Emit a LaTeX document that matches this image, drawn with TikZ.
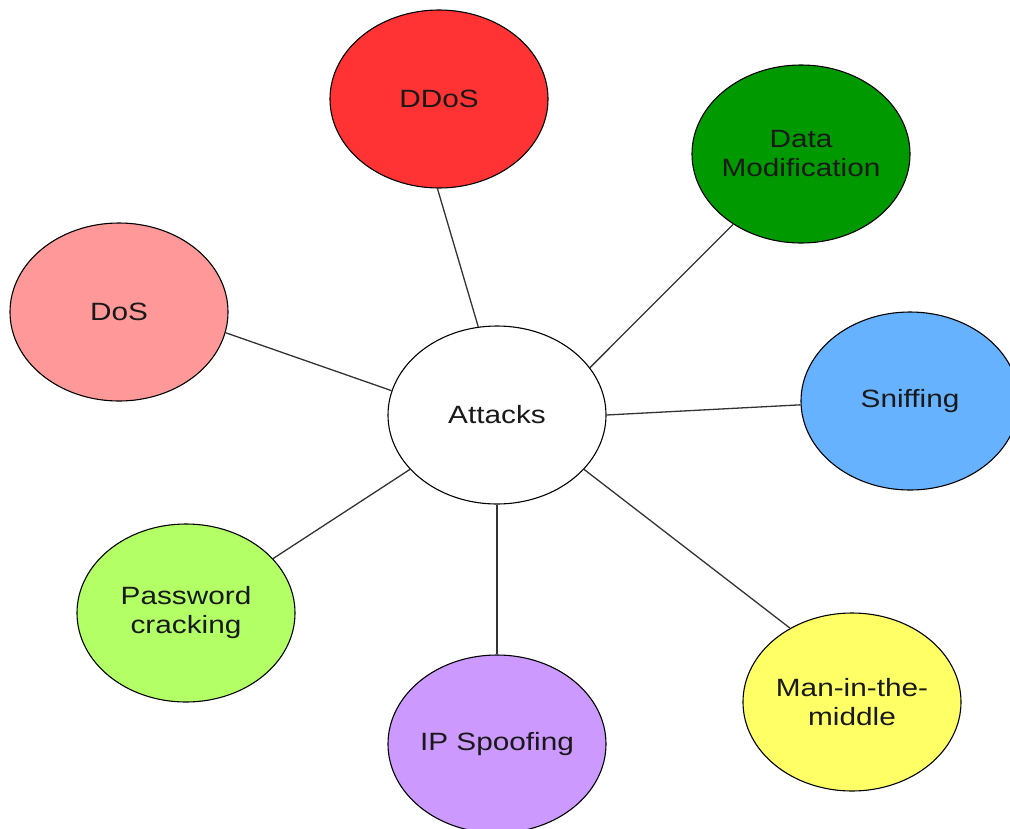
\documentclass[tikz,border=0pt]{standalone}
\usepackage{fontspec}
\setmainfont[FakeStretch=1.19]{Liberation Sans}
\usetikzlibrary{shapes.geometric}
\definecolor{ddosred}{HTML}{FF3333}
\definecolor{modgreen}{HTML}{009900}
\definecolor{dospink}{HTML}{FF9999}
\definecolor{sniffblue}{HTML}{66B2FF}
\definecolor{pwgreen}{HTML}{B2FF66}
\definecolor{spoofviolet}{HTML}{CC99FF}
\definecolor{mitmyellow}{HTML}{FFFF66}
\definecolor{edgegrey}{HTML}{333333}
\tikzset{
  bubble/.style={ellipse, draw=black, line width=1.1pt, minimum width=218pt,
    minimum height=178pt, inner xsep=-15pt, inner ysep=0pt, align=center,
    font=\fontsize{25}{29}\selectfont, text=black!90},
  spoke/.style={draw=edgegrey, line width=1.3pt}
}
\begin{document}
\begin{tikzpicture}[x=1pt, y=-1pt]
  \useasboundingbox (0,0) rectangle (1010,828);
  \begin{scope}
    \clip (0,0) rectangle (1010,828);
    % hub
    \node[bubble, fill=white] (hub) at (497,415) {Attacks};
    % attack types
    \node[bubble, fill=ddosred]     (ddos)  at (439,99)  {DDoS};
    \node[bubble, fill=modgreen]    (mod)   at (801,154) {Data\\Modification};
    \node[bubble, fill=dospink]     (dos)   at (119,312) {DoS};
    \node[bubble, fill=sniffblue]   (sniff) at (910,401) {Sniffing};
    \node[bubble, fill=pwgreen]     (pw)    at (186,613) {Password\\cracking};
    \node[bubble, fill=spoofviolet] (spoof) at (497,744) {IP Spoofing};
    \node[bubble, fill=mitmyellow]  (mitm)  at (852,702) {Man-in-the-\\middle};
    % spokes from the hub
    \draw[spoke] (hub.102.2) -- (ddos.269.4);
    \draw[spoke] (hub.27.05) -- (mod.226.2);
    \draw[spoke] (hub.167.1) -- (dos.-11.1);
    \draw[spoke] (hub.0.5)   -- (sniff.182.7);
    \draw[spoke] (hub.212.9) -- (pw.32.5);
    \draw[spoke] (hub.270)   -- (spoof.90);
    \draw[spoke] (hub.-32.1) -- (mitm.130);
  \end{scope}
\end{tikzpicture}
\end{document}
